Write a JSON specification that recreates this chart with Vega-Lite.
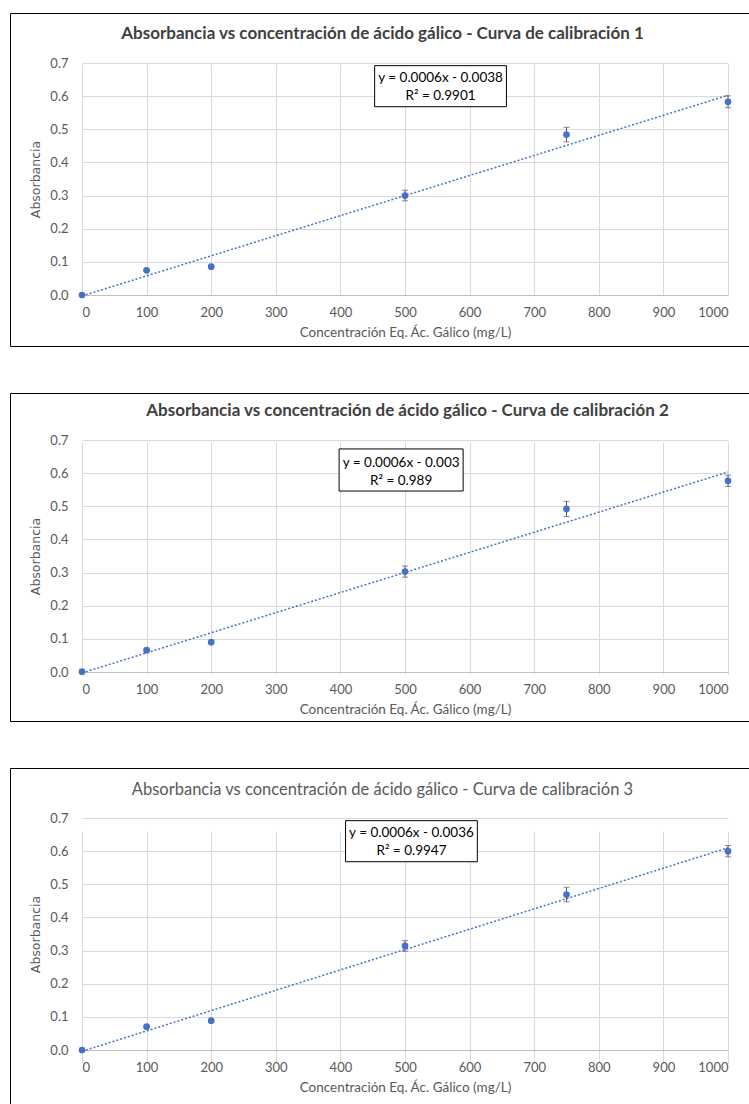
{
  "$schema": "https://vega.github.io/schema/vega-lite/v6.json",
  "background": "white",
  "padding": {"left": 9, "top": 12, "right": 0, "bottom": 0},
  "spacing": 45,
  "datasets": {
    "c1": [
      {"conc": 0, "abs": 0.000, "err": 0.002},
      {"conc": 100, "abs": 0.0745, "err": 0.003},
      {"conc": 200, "abs": 0.0856, "err": 0.003},
      {"conc": 500, "abs": 0.300, "err": 0.016},
      {"conc": 750, "abs": 0.484, "err": 0.022},
      {"conc": 1000, "abs": 0.583, "err": 0.018}
    ],
    "c2": [
      {"conc": 0, "abs": 0.001, "err": 0.002},
      {"conc": 100, "abs": 0.066, "err": 0.003},
      {"conc": 200, "abs": 0.090, "err": 0.003},
      {"conc": 500, "abs": 0.303, "err": 0.017},
      {"conc": 750, "abs": 0.492, "err": 0.023},
      {"conc": 1000, "abs": 0.577, "err": 0.017}
    ],
    "c3": [
      {"conc": 0, "abs": 0.000, "err": 0.002},
      {"conc": 100, "abs": 0.0705, "err": 0.003},
      {"conc": 200, "abs": 0.0886, "err": 0.003},
      {"conc": 500, "abs": 0.314, "err": 0.016},
      {"conc": 750, "abs": 0.469, "err": 0.022},
      {"conc": 1000, "abs": 0.600, "err": 0.017}
    ]
  },
  "vconcat": [
    {
      "width": 739,
      "height": 333,
      "title": {"text": "Absorbancia vs concentración de ácido gálico - Curva de calibración 1", "offset": -38, "baseline": "middle", "frame": "group", "anchor": "middle", "dx": 3, "fontWeight": "bold"},
      "data": {"name": "c1"},
      "encoding": {
        "x": {"field": "conc", "type": "quantitative",
          "scale": {"domain": [0, 1000], "range": [72, 718], "nice": false, "zero": false},
          "axis": {"offset": -51, "values": [0,100,200,300,400,500,600,700,800,900,1000], "format": "d", "labelPadding": 11, "domain": true, "domainColor": "#bfbfbf", "title": "Concentración Eq. Ác. Gálico (mg/L)", "titlePadding": 6}},
        "y": {"field": "abs", "type": "quantitative",
          "scale": {"domain": [0, 0.7], "range": [282, 50], "nice": false, "zero": false},
          "axis": {"offset": -72, "values": [0,0.1,0.2,0.3,0.4,0.5,0.6,0.7], "format": ".1f", "labelPadding": 14, "title": "Absorbancia", "titleFont": "DejaVu Sans", "titleFontSize": 12.5, "titlePadding": 7}}
      },
      "layer": [
        {"transform": [{"regression": "abs", "on": "conc", "extent": [0, 1000]}],
         "mark": {"type": "line", "color": "#4472C4", "strokeWidth": 1.5, "strokeDash": [2, 2]}},
        {"mark": {"type": "errorbar", "color": "#595959", "ticks": {"size": 6}}, "encoding": {"yError": {"field": "err"}}},
        {"mark": {"type": "circle", "size": 45, "color": "#4472C4", "opacity": 1}},
        {"transform": [{"filter": "datum.conc == 0"}],
         "mark": {"type": "rect", "fill": "white", "stroke": "black", "strokeWidth": 1},
         "encoding": {"x": {"datum": 453, "type": "quantitative"}, "x2": {"datum": 657}, "y": {"datum": 0.692, "type": "quantitative"}, "y2": {"datum": 0.568}}},
        {"transform": [{"filter": "datum.conc == 0"}],
         "mark": {"type": "text", "font": "Lato", "fontSize": 13.5, "color": "#000000", "baseline": "middle", "align": "center"},
         "encoding": {"x": {"datum": 555, "type": "quantitative"}, "y": {"datum": 0.656, "type": "quantitative"}, "text": {"value": "y = 0.0006x - 0.0038"}}},
        {"transform": [{"filter": "datum.conc == 0"}],
         "mark": {"type": "text", "font": "Lato", "fontSize": 13.5, "color": "#000000", "baseline": "middle", "align": "center"},
         "encoding": {"x": {"datum": 555, "type": "quantitative"}, "y": {"datum": 0.601, "type": "quantitative"}, "text": {"value": "R² = 0.9901"}}}
      ]
    },
    {
      "width": 739,
      "height": 328,
      "title": {"text": "Absorbancia vs concentración de ácido gálico - Curva de calibración 2", "offset": -35, "baseline": "middle", "frame": "group", "anchor": "middle", "dx": 28, "fontWeight": "bold"},
      "data": {"name": "c2"},
      "encoding": {
        "x": {"field": "conc", "type": "quantitative",
          "scale": {"domain": [0, 1000], "range": [72, 718], "nice": false, "zero": false},
          "axis": {"offset": -49, "values": [0,100,200,300,400,500,600,700,800,900,1000], "format": "d", "labelPadding": 11, "domain": true, "domainColor": "#bfbfbf", "title": "Concentración Eq. Ác. Gálico (mg/L)", "titlePadding": 6}},
        "y": {"field": "abs", "type": "quantitative",
          "scale": {"domain": [0, 0.7], "range": [279, 47], "nice": false, "zero": false},
          "axis": {"offset": -72, "values": [0,0.1,0.2,0.3,0.4,0.5,0.6,0.7], "format": ".1f", "labelPadding": 14, "title": "Absorbancia", "titleFont": "DejaVu Sans", "titleFontSize": 12.5, "titlePadding": 7}}
      },
      "layer": [
        {"transform": [{"regression": "abs", "on": "conc", "extent": [0, 1000]}],
         "mark": {"type": "line", "color": "#4472C4", "strokeWidth": 1.5, "strokeDash": [2, 2]}},
        {"mark": {"type": "errorbar", "color": "#595959", "ticks": {"size": 6}}, "encoding": {"yError": {"field": "err"}}},
        {"mark": {"type": "circle", "size": 45, "color": "#4472C4", "opacity": 1}},
        {"transform": [{"filter": "datum.conc == 0"}],
         "mark": {"type": "rect", "fill": "white", "stroke": "black", "strokeWidth": 1},
         "encoding": {"x": {"datum": 398, "type": "quantitative"}, "x2": {"datum": 590}, "y": {"datum": 0.673, "type": "quantitative"}, "y2": {"datum": 0.546}}},
        {"transform": [{"filter": "datum.conc == 0"}],
         "mark": {"type": "text", "font": "Lato", "fontSize": 13.5, "color": "#000000", "baseline": "middle", "align": "center"},
         "encoding": {"x": {"datum": 494, "type": "quantitative"}, "y": {"datum": 0.631, "type": "quantitative"}, "text": {"value": "y = 0.0006x - 0.003"}}},
        {"transform": [{"filter": "datum.conc == 0"}],
         "mark": {"type": "text", "font": "Lato", "fontSize": 13.5, "color": "#000000", "baseline": "middle", "align": "center"},
         "encoding": {"x": {"datum": 494, "type": "quantitative"}, "y": {"datum": 0.577, "type": "quantitative"}, "text": {"value": "R² = 0.989"}}}
      ]
    },
    {
      "width": 739,
      "height": 345,
      "title": {"text": "Absorbancia vs concentración de ácido gálico - Curva de calibración 3", "offset": -38, "baseline": "middle", "frame": "group", "anchor": "middle", "dx": 3, "fontWeight": "normal", "fontSize": 16.5, "color": "#595959"},
      "data": {"name": "c3"},
      "encoding": {
        "x": {"field": "conc", "type": "quantitative",
          "scale": {"domain": [0, 1000], "range": [72, 718], "nice": false, "zero": false},
          "axis": {"offset": -63, "values": [0,100,200,300,400,500,600,700,800,900,1000], "format": "d", "labelPadding": 11, "domain": true, "domainColor": "#bfbfbf", "title": "Concentración Eq. Ác. Gálico (mg/L)", "titlePadding": 6}},
        "y": {"field": "abs", "type": "quantitative",
          "scale": {"domain": [0, 0.7], "range": [282, 50], "nice": false, "zero": false},
          "axis": {"offset": -72, "values": [0,0.1,0.2,0.3,0.4,0.5,0.6,0.7], "format": ".1f", "labelPadding": 14, "title": "Absorbancia", "titleFont": "DejaVu Sans", "titleFontSize": 12.5, "titlePadding": 7}}
      },
      "layer": [
        {"transform": [{"regression": "abs", "on": "conc", "extent": [0, 1000]}],
         "mark": {"type": "line", "color": "#4472C4", "strokeWidth": 1.5, "strokeDash": [2, 2]}},
        {"mark": {"type": "errorbar", "color": "#595959", "ticks": {"size": 6}}, "encoding": {"yError": {"field": "err"}}},
        {"mark": {"type": "circle", "size": 45, "color": "#4472C4", "opacity": 1}},
        {"transform": [{"filter": "datum.conc == 0"}],
         "mark": {"type": "rect", "fill": "white", "stroke": "black", "strokeWidth": 1},
         "encoding": {"x": {"datum": 408, "type": "quantitative"}, "x2": {"datum": 612}, "y": {"datum": 0.692, "type": "quantitative"}, "y2": {"datum": 0.568}}},
        {"transform": [{"filter": "datum.conc == 0"}],
         "mark": {"type": "text", "font": "Lato", "fontSize": 13.5, "color": "#000000", "baseline": "middle", "align": "center"},
         "encoding": {"x": {"datum": 510, "type": "quantitative"}, "y": {"datum": 0.656, "type": "quantitative"}, "text": {"value": "y = 0.0006x - 0.0036"}}},
        {"transform": [{"filter": "datum.conc == 0"}],
         "mark": {"type": "text", "font": "Lato", "fontSize": 13.5, "color": "#000000", "baseline": "middle", "align": "center"},
         "encoding": {"x": {"datum": 510, "type": "quantitative"}, "y": {"datum": 0.601, "type": "quantitative"}, "text": {"value": "R² = 0.9947"}}}
      ]
    }
  ],
  "config": {
    "view": {"stroke": "#000000", "strokeWidth": 1},
    "font": "Lato",
    "axis": {"labelFont": "Lato", "labelFontSize": 13, "labelColor": "#595959", "titleFont": "Lato", "titleFontSize": 13.5, "titleFontWeight": "normal", "titleColor": "#595959", "gridColor": "#d9d9d9", "ticks": false, "domain": false},
    "title": {"font": "Lato", "fontSize": 17, "color": "#404040"}
  }
}
